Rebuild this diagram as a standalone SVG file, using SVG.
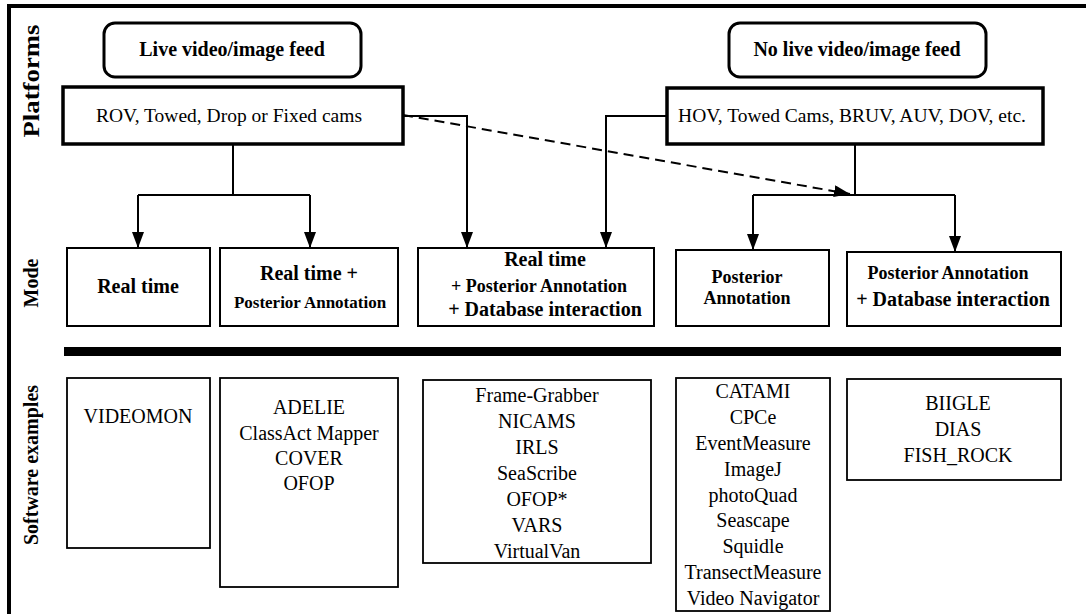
<svg xmlns="http://www.w3.org/2000/svg" width="1086" height="614" viewBox="0 0 1086 614">
<defs>
<style>
text{font-family:"Liberation Serif","Times New Roman",serif;fill:#000;text-anchor:middle}
.b{font-weight:bold}
.side{font-weight:bold;font-size:20px}
.feed{fill:#fff;stroke:#000;stroke-width:3}
.plat{fill:#fff;stroke:#000;stroke-width:3.5}
.mode{fill:#fff;stroke:#000;stroke-width:2}
.sw{fill:#fff;stroke:#000;stroke-width:1.8}
.conn{fill:none;stroke:#000;stroke-width:2}
.dash{fill:none;stroke:#000;stroke-width:2;stroke-dasharray:10 6}
.t20{font-size:20px}
.t19{font-size:19.5px}
.t18{font-size:18px}
.sws{font-size:20px}
</style>
<marker id="arr" viewBox="0 0 16 12" refX="16" refY="6" markerWidth="16" markerHeight="12" markerUnits="userSpaceOnUse" orient="auto">
<path d="M0,0 L16,6 L0,12 Z" fill="#000"/>
</marker>
</defs>
<rect x="0" y="0" width="1086" height="614" fill="#fff"/>
<path d="M9,614 V6 H1086" fill="none" stroke="#000" stroke-width="4"/>

<g id="side-labels">
<text class="side" font-size="24px" style="font-size:24px" textLength="113" lengthAdjust="spacingAndGlyphs" transform="translate(39,81) rotate(-90)">Platforms</text>
<text class="side" transform="translate(38,283) rotate(-90)">Mode</text>
<text class="side" transform="translate(38,465) rotate(-90)">Software examples</text>
</g>

<g id="live-feed">
<rect class="feed" x="104" y="23" width="257" height="54" rx="11"/>
<text class="b t20" x="232" y="56">Live video/image feed</text>
</g>
<g id="no-live-feed">
<rect class="feed" x="729" y="23" width="257" height="54" rx="11"/>
<text class="b t20" x="857" y="56">No live video/image feed</text>
</g>
<g id="rov">
<rect class="plat" x="63" y="87" width="340" height="57"/>
<text class="t19" x="229" y="122">ROV, Towed, Drop or Fixed cams</text>
</g>
<g id="hov">
<rect class="plat" x="667" y="88" width="376" height="56"/>
<text class="t19" x="852" y="122">HOV, Towed Cams, BRUV, AUV, DOV, etc.</text>
</g>

<g id="connectors">
<path class="conn" d="M233,144 V195"/>
<path class="conn" d="M138,195 H310"/>
<path class="conn" d="M138,195 V248" marker-end="url(#arr)"/>
<path class="conn" d="M310,195 V248" marker-end="url(#arr)"/>
<path class="conn" d="M403,116 H467 V248" marker-end="url(#arr)"/>
<path class="conn" d="M667,116 H606 V248" marker-end="url(#arr)"/>
<path class="conn" d="M855,144 V195"/>
<path class="conn" d="M753,195 H955"/>
<path class="conn" d="M753,195 V250" marker-end="url(#arr)"/>
<path class="conn" d="M955,195 V252" marker-end="url(#arr)"/>
<path class="dash" d="M403,115 L850,194" marker-end="url(#arr)"/>
</g>

<g id="mode-realtime">
<rect class="mode" x="67" y="248" width="143" height="78"/>
<text class="b t20" x="138" y="293">Real time</text>
</g>
<g id="mode-rt-post">
<rect class="mode" x="220" y="248" width="178" height="78"/>
<text class="b t20" x="309" y="280">Real time +</text>
<text class="b" font-size="17px" style="font-size:17px" x="310" y="308">Posterior Annotation</text>
</g>
<g id="mode-rt-post-db">
<rect class="mode" x="418" y="248" width="236" height="78"/>
<text class="b t20" x="545" y="266">Real time</text>
<text class="b t18" x="539" y="292">+ Posterior Annotation</text>
<text class="b t20" x="545" y="316">+ Database interaction</text>
</g>
<g id="mode-post">
<rect class="mode" x="676" y="250" width="153" height="76"/>
<text class="b t18" x="747" y="283">Posterior</text>
<text class="b t18" x="747" y="304">Annotation</text>
</g>
<g id="mode-post-db">
<rect class="mode" x="847" y="252" width="214" height="74"/>
<text class="b t18" x="948" y="279">Posterior Annotation</text>
<text class="b t20" x="953" y="306">+ Database interaction</text>
</g>

<rect id="divider" x="64" y="347" width="997" height="9" fill="#000"/>

<g id="sw-videomon">
<rect class="sw" x="67" y="378" width="143" height="170"/>
<text class="sws" x="138" y="423">VIDEOMON</text>
</g>
<g id="sw-adelie">
<rect class="sw" x="220" y="378" width="178" height="209"/>
<text class="sws" x="309" y="414">ADELIE</text>
<text class="sws" x="309" y="440">ClassAct Mapper</text>
<text class="sws" x="309" y="465">COVER</text>
<text class="sws" x="309" y="490">OFOP</text>
</g>
<g id="sw-framegrabber">
<rect class="sw" x="423" y="380" width="228" height="183"/>
<text class="sws" x="537" y="402">Frame-Grabber</text>
<text class="sws" x="537" y="428">NICAMS</text>
<text class="sws" x="537" y="454">IRLS</text>
<text class="sws" x="537" y="480">SeaScribe</text>
<text class="sws" x="537" y="506">OFOP*</text>
<text class="sws" x="537" y="532">VARS</text>
<text class="sws" x="537" y="558">VirtualVan</text>
</g>
<g id="sw-catami">
<rect class="sw" x="676" y="378" width="154" height="233"/>
<text class="sws" x="753" y="398">CATAMI</text>
<text class="sws" x="753" y="424">CPCe</text>
<text class="sws" x="753" y="450">EventMeasure</text>
<text class="sws" x="753" y="476">ImageJ</text>
<text class="sws" x="753" y="502">photoQuad</text>
<text class="sws" x="753" y="527">Seascape</text>
<text class="sws" x="753" y="553">Squidle</text>
<text class="sws" x="753" y="579">TransectMeasure</text>
<text class="sws" x="753" y="605">Video Navigator</text>
</g>
<g id="sw-biigle">
<rect class="sw" x="847" y="379" width="214" height="101"/>
<text class="sws" x="958" y="410">BIIGLE</text>
<text class="sws" x="958" y="436">DIAS</text>
<text class="sws" x="958" y="462">FISH_ROCK</text>
</g>
</svg>
